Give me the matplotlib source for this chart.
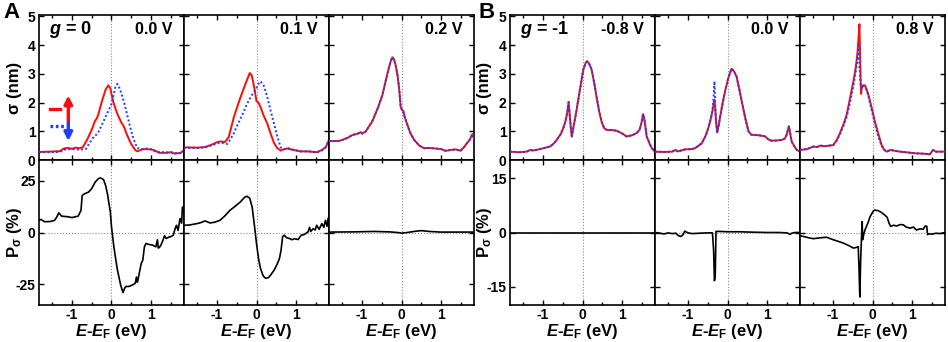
import matplotlib
matplotlib.use("Agg")
import matplotlib.pyplot as plt
from matplotlib.ticker import MultipleLocator

plt.rcParams["font.family"] = ["Liberation Sans", "DejaVu Sans"]
plt.rcParams["font.weight"] = "bold"
plt.rcParams["axes.labelweight"] = "bold"
plt.rcParams["axes.unicode_minus"] = False
plt.rcParams["mathtext.fontset"] = "custom"
plt.rcParams["mathtext.rm"] = "Liberation Sans:bold"
plt.rcParams["mathtext.it"] = "Liberation Sans:italic:bold"
plt.rcParams["mathtext.bf"] = "Liberation Sans:bold"

# ---- sigma (nm), panel A, g = 0 ----
a00_e_up = [-1.83, -1.6, -1.4, -1.3, -1.2, -1.1, -1.0, -0.9, -0.8, -0.72, -0.6, -0.5, -0.42, -0.37, -0.33,
            -0.25, -0.15, -0.08, -0.03, 0.0, 0.05, 0.15, 0.25, 0.3, 0.33, 0.4, 0.5, 0.6, 0.65, 0.8, 1.0,
            1.1, 1.2, 1.4, 1.5, 1.6, 1.75, 1.83]
a00_up = [0.28, 0.29, 0.30, 0.31, 0.40, 0.42, 0.39, 0.43, 0.41, 0.45, 0.75, 1.05, 1.35, 1.45, 1.6,
          2.0, 2.45, 2.6, 2.5, 2.3, 2.0, 1.6, 1.3, 1.2, 1.1, 0.85, 0.55, 0.35, 0.3, 0.38, 0.37,
          0.33, 0.25, 0.25, 0.27, 0.22, 0.25, 0.35]
a00_e_dn = [-1.83, -1.5, -1.3, -1.2, -1.0, -0.8, -0.65, -0.55, -0.45, -0.35, -0.25, -0.15, -0.05, 0.0,
            0.05, 0.1, 0.15, 0.22, 0.32, 0.4, 0.48, 0.55, 0.65, 0.75, 0.9, 1.0, 1.1, 1.2, 1.5, 1.6, 1.75, 1.83]
a00_dn = [0.27, 0.27, 0.28, 0.36, 0.38, 0.36, 0.38, 0.6, 0.8, 0.92, 1.2, 1.5, 1.8, 1.95,
          2.25, 2.55, 2.65, 2.45, 2.0, 1.55, 1.1, 0.75, 0.42, 0.38, 0.4, 0.37, 0.3, 0.27, 0.27, 0.24, 0.25, 0.3]

a01_e_up = [-1.83, -1.5, -1.3, -1.1, -1.0, -0.9, -0.8, -0.7, -0.57, -0.45, -0.36, -0.25, -0.17, -0.12,
            -0.06, 0.0, 0.05, 0.1, 0.18, 0.27, 0.35, 0.44, 0.52, 0.61, 0.7, 0.78, 0.9, 1.11, 1.3, 1.53,
            1.65, 1.75, 1.83]
a01_up = [0.44, 0.43, 0.45, 0.55, 0.62, 0.65, 0.62, 0.8, 1.5, 2.0, 2.35, 2.75, 3.03, 2.95,
          2.55, 2.05, 2.0, 1.85, 1.55, 1.28, 0.95, 0.6, 0.42, 0.33, 0.38, 0.4, 0.36, 0.3, 0.3, 0.27,
          0.35, 0.45, 0.7]
a01_e_dn = [-1.83, -1.5, -1.3, -1.1, -1.0, -0.9, -0.74, -0.6, -0.48, -0.35, -0.23, -0.1, -0.02, 0.05,
            0.1, 0.18, 0.27, 0.36, 0.44, 0.52, 0.61, 0.7, 0.8, 0.9, 1.11, 1.3, 1.53, 1.65, 1.75, 1.83]
a01_dn = [0.43, 0.42, 0.44, 0.52, 0.58, 0.6, 0.56, 0.85, 1.22, 1.6, 1.98, 2.3, 2.45, 2.65,
          2.74, 2.6, 2.21, 1.7, 1.28, 0.85, 0.44, 0.37, 0.41, 0.37, 0.3, 0.3, 0.27, 0.33, 0.45, 0.7]

a02_e = [-1.83, -1.6, -1.49, -1.35, -1.24, -1.1, -1.03, -0.99, -0.9, -0.74, -0.6, -0.48, -0.4, -0.32,
         -0.27, -0.23, -0.19, -0.15, -0.1, -0.06, -0.02, 0.01, 0.04, 0.08, 0.15, 0.22, 0.32, 0.45, 0.57,
         0.7, 0.86, 1.0, 1.11, 1.25, 1.37, 1.49, 1.58, 1.66, 1.72, 1.79, 1.83]
a02 = [0.66, 0.66, 0.70, 0.78, 0.87, 0.92, 0.97, 0.92, 1.0, 1.34, 1.8, 2.27, 2.75, 3.2,
       3.45, 3.58, 3.5, 3.32, 2.95, 2.5, 1.85, 1.75, 1.72, 1.5, 1.22, 0.95, 0.7, 0.5, 0.41,
       0.42, 0.4, 0.38, 0.32, 0.35, 0.37, 0.32, 0.45, 0.6, 0.7, 0.9, 0.75]

# ---- sigma (nm), panel B, g = -1 ----
b08n_e = [-1.83, -1.6, -1.41, -1.32, -1.25, -1.1, -0.99, -0.82, -0.72, -0.65, -0.55, -0.48, -0.42, -0.38,
          -0.35, -0.33, -0.3, -0.27, -0.23, -0.16, -0.1, -0.04, 0.02, 0.08, 0.12, 0.17, 0.23, 0.3, 0.36,
          0.42, 0.48, 0.55, 0.61, 0.75, 0.86, 0.95, 1.03, 1.11, 1.25, 1.37, 1.44, 1.49, 1.53, 1.57, 1.62,
          1.7, 1.75, 1.83]
b08n = [0.29, 0.27, 0.29, 0.35, 0.33, 0.37, 0.41, 0.47, 0.58, 0.7, 0.9, 1.13, 1.4, 1.7,
        2.02, 1.7, 1.2, 0.82, 1.13, 1.65, 2.16, 2.65, 3.15, 3.38, 3.44, 3.35, 3.15, 2.65, 2.16,
        1.7, 1.34, 1.1, 1.05, 1.04, 1.02, 0.96, 0.9, 0.82, 0.86, 0.94, 1.05, 1.3, 1.6, 1.35, 0.82,
        0.55, 0.41, 0.29]

b00_e = [-1.83, -1.6, -1.4, -1.32, -1.25, -1.07, -0.9, -0.82, -0.65, -0.55, -0.48, -0.42, -0.38, -0.35,
         -0.33, -0.31, -0.29, -0.26, -0.23, -0.19, -0.12, -0.06, 0.02, 0.1, 0.16, 0.23, 0.3, 0.36, 0.45,
         0.53, 0.6, 0.69, 0.8, 0.95, 1.03, 1.11, 1.25, 1.37, 1.45, 1.49, 1.55, 1.58, 1.62, 1.7, 1.75, 1.83]
b00_up = [0.29, 0.28, 0.29, 0.35, 0.3, 0.37, 0.38, 0.41, 0.58, 0.85, 1.13, 1.45, 1.7, 1.95,
          2.1, 1.8, 1.36, 0.96, 1.15, 1.47, 2.0, 2.4, 2.85, 3.18, 3.1, 2.9, 2.45, 2.04, 1.45,
          1.0, 0.88, 0.87, 0.86, 0.82, 0.72, 0.67, 0.68, 0.7, 0.75, 0.87, 1.17, 0.95, 0.64, 0.45, 0.35, 0.29]
b00_dn = [0.29, 0.28, 0.29, 0.35, 0.3, 0.37, 0.38, 0.41, 0.58, 0.85, 1.13, 1.45, 1.7, 2.2,
          2.74, 2.0, 1.36, 0.96, 1.15, 1.47, 2.0, 2.4, 2.85, 3.18, 3.1, 2.9, 2.45, 2.04, 1.45,
          1.0, 0.88, 0.87, 0.86, 0.82, 0.72, 0.67, 0.68, 0.7, 0.75, 0.87, 1.17, 0.95, 0.64, 0.45, 0.35, 0.29]

b08_e_up = [-1.83, -1.65, -1.49, -1.4, -1.32, -1.2, -0.99, -0.9, -0.82, -0.73, -0.65, -0.56, -0.48, -0.42,
            -0.38, -0.35, -0.33, -0.31, -0.29, -0.27, -0.24, -0.19, -0.12, -0.06, 0.0, 0.06, 0.15, 0.23,
            0.3, 0.36, 0.45, 0.53, 0.7, 0.9, 1.11, 1.3, 1.45, 1.5, 1.53, 1.6, 1.83]
b08_up = [0.35, 0.38, 0.47, 0.45, 0.5, 0.48, 0.52, 0.7, 0.94, 1.25, 1.59, 2.2, 2.75, 3.25,
          3.7, 4.3, 4.73, 3.5, 2.3, 2.5, 2.6, 2.6, 2.35, 2.04, 1.7, 1.34, 0.9, 0.52,
          0.35, 0.29, 0.35, 0.33, 0.29, 0.26, 0.23, 0.22, 0.2, 0.3, 0.35, 0.29, 0.29]
b08_e_dn = [-1.83, -1.65, -1.49, -1.4, -1.32, -1.2, -0.99, -0.9, -0.82, -0.73, -0.65, -0.56, -0.48, -0.42,
            -0.38, -0.36, -0.34, -0.31, -0.29, -0.25, -0.2, -0.15, -0.1, -0.04, 0.02, 0.08, 0.15, 0.23,
            0.3, 0.36, 0.45, 0.53, 0.7, 0.9, 1.11, 1.3, 1.45, 1.5, 1.53, 1.6, 1.83]
b08_dn = [0.35, 0.38, 0.47, 0.45, 0.5, 0.48, 0.52, 0.68, 0.9, 1.2, 1.5, 2.05, 2.6, 3.1,
          3.5, 3.98, 3.6, 2.8, 2.5, 2.6, 2.55, 2.45, 2.2, 1.85, 1.5, 1.15, 0.8, 0.5,
          0.35, 0.29, 0.35, 0.33, 0.29, 0.26, 0.23, 0.22, 0.2, 0.3, 0.35, 0.29, 0.29]

# ---- P_sigma (%) ----
pa00_e = [-1.83, -1.78, -1.69, -1.55, -1.44, -1.38, -1.33, -1.26, -1.1, -1.0, -0.84, -0.77, -0.74, -0.67,
          -0.58, -0.5, -0.41, -0.33, -0.28, -0.2, -0.15, -0.1, -0.07, -0.03, 0.0, 0.06, 0.1, 0.15, 0.23,
          0.29, 0.33, 0.36, 0.45, 0.53, 0.6, 0.63, 0.65, 0.66, 0.7, 0.75, 0.79, 0.83, 0.87, 0.95, 1.04,
          1.12, 1.16, 1.18, 1.21, 1.25, 1.3, 1.34, 1.38, 1.45, 1.5, 1.56, 1.6, 1.64, 1.68, 1.73, 1.77,
          1.79, 1.83]
pa00 = [5.9, 6.3, 5.2, 5.3, 5.8, 7.5, 9.5, 7.9, 7.6, 7.2, 7.9, 10.7, 17.9, 18.8,
        19.5, 21.2, 24.4, 26.0, 26.4, 25.5, 22.8, 18.5, 14.7, 10.0, 2.7, -6.9, -12.0, -18.1, -25.3,
        -29.0, -27.0, -26.1, -26.0, -25.3, -24.5, -21.5, -24.0, -23.7, -19.7, -15.0, -13.3, -7.0, -5.3, -5.8, -6.1,
        -6.9, -3.5, -7.5, -7.2, -6.0, -3.7, -1.5, -2.9, -2.2, -2.0, -1.3, 1.5, 3.5, 1.0, 6.7, 4.5,
        12.3, 10.7]

pa01_e = [-1.83, -1.7, -1.5, -1.4, -1.3, -1.17, -1.05, -0.92, -0.8, -0.67, -0.55, -0.41, -0.3, -0.24,
          -0.17, -0.11, -0.05, 0.0, 0.05, 0.1, 0.17, 0.23, 0.3, 0.36, 0.45, 0.53, 0.58, 0.62, 0.66, 0.7,
          0.76, 0.83, 0.9, 0.96, 1.05, 1.13, 1.2, 1.3, 1.34, 1.37, 1.43, 1.48, 1.52, 1.58, 1.65, 1.7,
          1.74, 1.78, 1.81, 1.83]
pa01 = [3.5, 3.6, 4.3, 4.8, 5.6, 4.6, 5.0, 5.9, 8.0, 10.7, 12.5, 14.7, 17.0, 17.5,
        16.5, 12.3, 3.0, -5.3, -12.5, -17.3, -21.0, -22.1, -21.8, -20.5, -18.0, -14.9, -12.5, -8.5, -2.0, -1.3,
        -2.5, -2.9, -3.5, -3.0, -3.4, -1.3, -1.0, 0.3, 2.5, 0.5, 1.9, 1.2, 3.5, 1.5, 4.3, 2.5,
        5.9, 3.0, 7.0, 3.5]

pa02_e = [-1.83, -1.2, -0.7, -0.3, -0.1, 0.0, 0.15, 0.35, 0.5, 0.7, 1.0, 1.4, 1.83]
pa02 = [0.2, 0.3, 0.5, 0.3, 0.0, -0.3, 0.0, 0.6, 0.9, 0.5, 0.2, 0.2, 0.2]

pb08n_e = [-1.83, 1.83]
pb08n = [0.0, 0.0]

pb00_e = [-1.83, -1.7, -1.6, -1.5, -1.4, -1.3, -1.25, -1.18, -1.12, -1.08, -1.0, -0.9, -0.7, -0.5,
          -0.38, -0.35, -0.33, -0.31, -0.29, -0.2, 0.0, 0.3, 0.6, 1.0, 1.3, 1.5, 1.58, 1.62, 1.7, 1.83]
pb00 = [0.0, -0.2, -0.4, -0.1, -0.3, -0.2, -0.8, -1.1, -0.6, 0.4, -0.1, -0.3, -0.2, -0.1,
        -0.1, -5.0, -13.3, -12.0, 0.3, 0.3, 0.2, 0.2, 0.1, 0.0, 0.0, -0.1, -0.5, -0.2, 0.0, 0.0]

pb08_e = [-1.83, -1.7, -1.6, -1.49, -1.35, -1.16, -0.99, -0.85, -0.74, -0.6, -0.48, -0.4, -0.36, -0.34,
          -0.32, -0.3, -0.28, -0.26, -0.25, -0.22, -0.19, -0.12, -0.06, 0.02, 0.06, 0.15, 0.23, 0.31,
          0.37, 0.42, 0.46, 0.53, 0.61, 0.7, 0.78, 0.85, 0.95, 1.03, 1.11, 1.2, 1.28, 1.33, 1.37, 1.39,
          1.41, 1.53, 1.6, 1.7, 1.83]
pb08 = [-0.9, -1.2, -1.5, -1.7, -1.5, -1.3, -2.0, -2.5, -2.9, -3.6, -4.3, -4.1, -3.9, -10.0,
        -17.8, -8.0, -2.0, 3.0, -2.0, -0.5, 0.7, 2.5, 4.4, 5.9, 6.2, 6.0, 5.5, 4.8,
        4.2, 2.5, 1.7, 2.0, 1.8, 2.2, 2.1, 1.5, 1.2, 1.5, 0.7, 1.0, 0.9, 1.8, 1.7, -0.6,
        -0.4, -0.4, -0.2, -0.3, 0.0]

bias_a = ["0.0 V", "0.1 V", "0.2 V"]
bias_b = ["-0.8 V", "0.0 V", "0.8 V"]

RED = "#ff0a0a"
BLUE = "#1f3cff"
XLIM = (-1.83, 1.83)

W_PX, H_PX = 948, 342
fig = plt.figure(figsize=(W_PX / 100, H_PX / 100), dpi=100)


def box(x0, y0, w, h):
    return [x0 / W_PX, 1 - (y0 + h) / H_PX, w / W_PX, h / H_PX]


def style(ax, ylim, ymaj, show_ylab, bottom_row):
    ax.set_xlim(*XLIM)
    ax.set_ylim(*ylim)
    ax.xaxis.set_major_locator(MultipleLocator(1))
    ax.xaxis.set_minor_locator(MultipleLocator(0.5))
    ax.yaxis.set_major_locator(MultipleLocator(ymaj))
    ax.tick_params(which="both", direction="in", top=True, right=True, width=1.0)
    ax.tick_params(which="major", length=3.5, labelsize=10, pad=2.5)
    ax.tick_params(which="minor", length=2.5)
    ax.axvline(0, color="#888888", lw=0.8, ls=":", zorder=1)
    if bottom_row:
        ax.axhline(0, color="#888888", lw=0.8, ls=":", zorder=1)
        ax.set_xlabel(r"$\it{E}$-$\it{E}_{\rm F}$ (eV)", fontsize=12, fontweight="bold", va="top")
        ax.xaxis.set_label_coords(0.5, -0.118)
    else:
        ax.tick_params(labelbottom=False)
    if not show_ylab:
        ax.tick_params(labelleft=False)
    for s in ax.spines.values():
        s.set_linewidth(1.2)
    for lab in ax.get_xticklabels() + ax.get_yticklabels():
        lab.set_fontweight("bold")


top_a = [(a00_e_up, a00_up, a00_e_dn, a00_dn),
         (a01_e_up, a01_up, a01_e_dn, a01_dn),
         (a02_e, a02, a02_e, a02)]
top_b = [(b08n_e, b08n, b08n_e, b08n),
         (b00_e, b00_up, b00_e, b00_dn),
         (b08_e_up, b08_up, b08_e_dn, b08_dn)]
bot_a = [(pa00_e, pa00), (pa01_e, pa01), (pa02_e, pa02)]
bot_b = [(pb08n_e, pb08n), (pb00_e, pb00), (pb08_e, pb08)]

groups = [(39, top_a, bot_a, bias_a, (-35, 35), 25, r"$\it{g}$ = 0", 15),
          (510, top_b, bot_b, bias_b, (-20, 20), 15, r"$\it{g}$ = -1", 485)]

for x0, tops, bots, biases, plim, pstep, gtxt, ylab_x in groups:
    for i in range(3):
        ax = fig.add_axes(box(x0 + i * 145, 15, 145, 145))
        eu, up, ed, dn = tops[i]
        ax.plot(eu, up, color=RED, lw=1.4, zorder=3)
        ax.plot(ed, dn, color=BLUE, lw=1.4, ls=(0, (1, 1.2)), zorder=4)
        style(ax, (0, 5.05), 1, i == 0, False)
        ax.text(0.92, 0.9, biases[i], transform=ax.transAxes, ha="right", va="center",
                fontsize=11.5, fontweight="bold")
        if i == 0:
            ax.text(0.07, 0.9, gtxt, transform=ax.transAxes, ha="left", va="center",
                    fontsize=13, fontweight="bold")
            if x0 == 39:
                # spin legend: red solid = up, blue dotted = down
                ax.plot([-1.54, -1.30], [1.77, 1.77], color=RED, lw=2.4)
                ax.annotate("", xy=(-1.09, 2.25), xytext=(-1.09, 1.33),
                            arrowprops=dict(arrowstyle="-|>", color=RED, lw=2.4,
                                            mutation_scale=12, shrinkA=0, shrinkB=0))
                ax.plot([-1.54, -1.20], [1.17, 1.17], color=BLUE, lw=2.4, ls=(0, (0.8, 0.8)))
                ax.annotate("", xy=(-1.09, 0.66), xytext=(-1.09, 1.30),
                            arrowprops=dict(arrowstyle="-|>", color=BLUE, lw=2.4,
                                            mutation_scale=12, shrinkA=0, shrinkB=0))

        bx = fig.add_axes(box(x0 + i * 145, 160, 145, 145))
        pe, pv = bots[i]
        bx.plot(pe, pv, color="black", lw=1.2, zorder=3)
        style(bx, plim, pstep, i == 0, True)

    fig.text(ylab_x / W_PX, 1 - 88 / H_PX, "σ (nm)", rotation=90, ha="center", va="center",
             fontsize=12, fontweight="bold")
    fig.text(ylab_x / W_PX, 1 - 232 / H_PX, r"P$_{\rm σ}$ (%)", rotation=90, ha="center", va="center",
             fontsize=12, fontweight="bold")

fig.text(12 / W_PX, 1 - 13 / H_PX, "A", fontsize=16, fontweight="bold", ha="center", va="center")
fig.text(487 / W_PX, 1 - 13 / H_PX, "B", fontsize=16, fontweight="bold", ha="center", va="center")

fig.savefig("out.png", dpi=100)
